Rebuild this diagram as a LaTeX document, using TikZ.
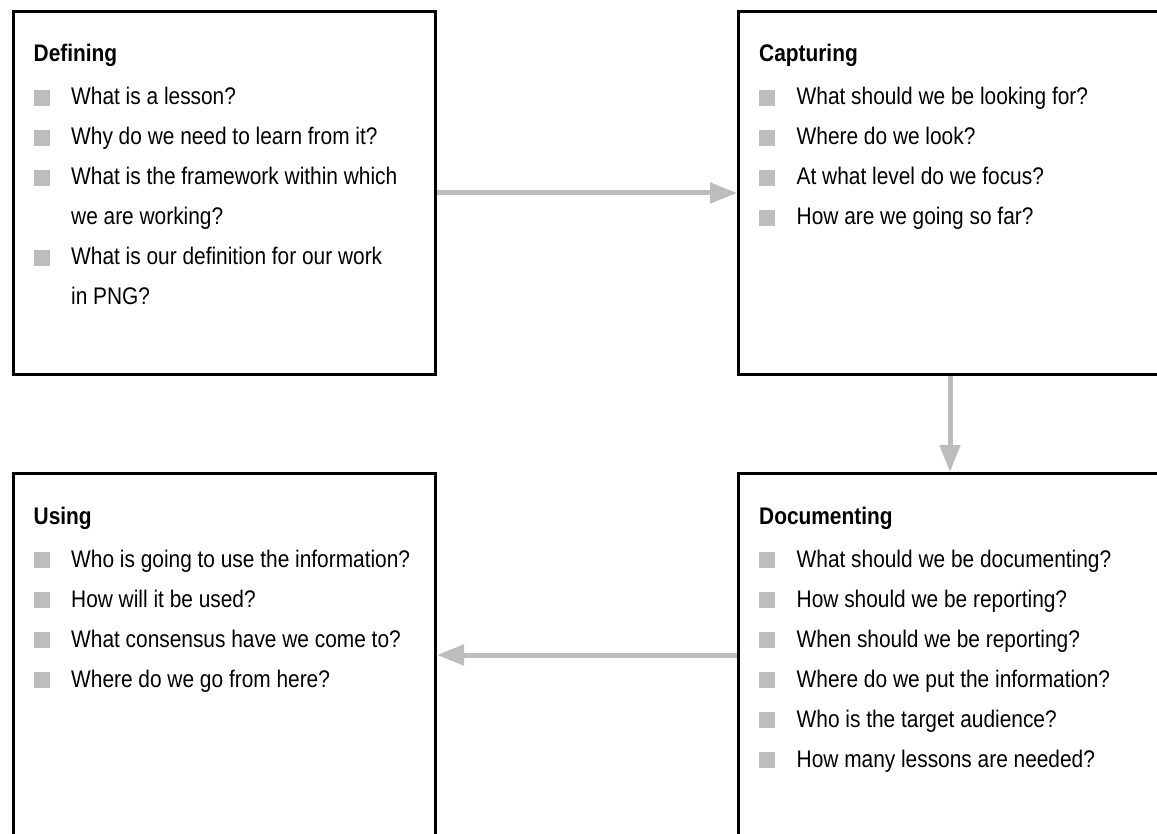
\documentclass[tikz,border=0pt]{standalone}
\usepackage{fontspec}
\setmainfont{Liberation Sans}[FakeStretch=0.87]
\usetikzlibrary{arrows.meta}
\definecolor{lgray}{HTML}{BDBDBD}
\newcommand\itm[4]{%
  \node[bul] (#1b) at ({#2+8},{#3-7}) {};
  \node[itx] (#1) at ({#2+37.5},#3) {#4};}
\begin{document}
\begin{tikzpicture}[x=1pt,y=-1pt,
  box/.style={draw=black, line width=3pt, minimum width=422pt, minimum height=363pt, inner sep=0pt, anchor=north west},
  rbox/.style={box, minimum width=423pt},
  ttl/.style={anchor=base west, inner sep=0pt, font=\fontsize{24}{28}\selectfont\bfseries},
  itx/.style={anchor=base west, inner sep=0pt, font=\fontsize{24}{28}\selectfont},
  bul/.style={fill=lgray, minimum size=16pt, inner sep=0pt},
  arr/.style={draw=lgray, line width=5pt, -{Triangle[length=27pt,width=20pt]}}]
\useasboundingbox (0,0) rectangle (1157,834);
\clip (0,0) rectangle (1157,834);
\fill[white] (0,0) rectangle (1157,834);
% boxes
\node[box] (tl) at (12,10) {};
\node[rbox] (tr) at (737,10) {};
\node[box] (bl) at (12,472) {};
\node[rbox] (br) at (737,472) {};
% connectors
\draw[arr] (tl.east) -- (tr.west);
\draw[arr] (tr.south) -- (br.north);
\draw[arr] (br.west) -- (bl.east);
% Defining
\node[ttl] (t1) at (33.5,62) {Defining};
\itm{a1}{33.5}{105}{What is a lesson?}
\itm{a2}{33.5}{145}{Why do we need to learn from it?}
\itm{a3}{33.5}{185}{What is the framework within which}
\node[itx] (a3c) at (71,225) {we are working?};
\itm{a4}{33.5}{265}{What is our definition for our work}
\node[itx] (a4c) at (71,305) {in PNG?};
% Capturing
\node[ttl] (t2) at (759,62) {Capturing};
\itm{c1}{759}{105}{What should we be looking for?}
\itm{c2}{759}{145}{Where do we look?}
\itm{c3}{759}{185}{At what level do we focus?}
\itm{c4}{759}{225}{How are we going so far?}
% Using
\node[ttl] (t3) at (33.5,524) {Using};
\itm{u1}{33.5}{567}{Who is going to use the information?}
\itm{u2}{33.5}{607}{How will it be used?}
\itm{u3}{33.5}{647}{What consensus have we come to?}
\itm{u4}{33.5}{687}{Where do we go from here?}
% Documenting
\node[ttl] (t4) at (759,524) {Documenting};
\itm{d1}{759}{567}{What should we be documenting?}
\itm{d2}{759}{607}{How should we be reporting?}
\itm{d3}{759}{647}{When should we be reporting?}
\itm{d4}{759}{687}{Where do we put the information?}
\itm{d5}{759}{727}{Who is the target audience?}
\itm{d6}{759}{767}{How many lessons are needed?}
\end{tikzpicture}
\end{document}
